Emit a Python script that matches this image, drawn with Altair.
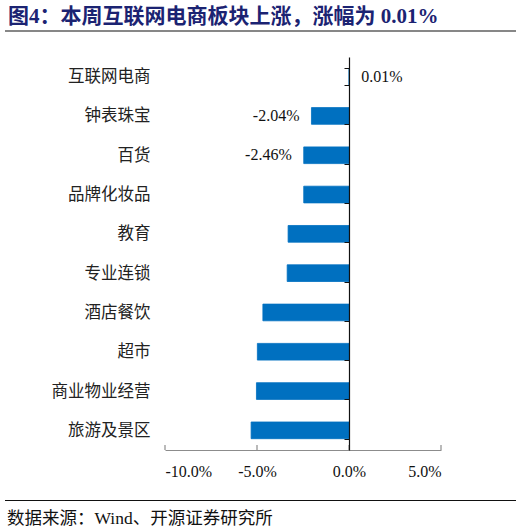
import altair as alt
import pandas as pd

# Weekly change by retail sub-sector (%)
categories = ["互联网电商", "钟表珠宝", "百货", "品牌化妆品", "教育",
              "专业连锁", "酒店餐饮", "超市", "商业物业经营", "旅游及景区"]
changes = [0.01, -2.04, -2.46, -2.46, -3.31, -3.36, -4.68, -4.98, -5.03, -5.32]
labeled = ["互联网电商", "钟表珠宝", "百货"]
x_ticks = [-10, -5, 0, 5]

title_text = "图4：本周互联网电商板块上涨，涨幅为 0.01%"
source_text = "数据来源：Wind、开源证券研究所"

W, H = 276, 393
PAD_L, PAD_T = 165, 57
BLUE = "#0070C0"
SERIF = "Liberation Serif, Noto Sans CJK SC"
CJK = "Noto Sans CJK SC"

df = pd.DataFrame({"cat": categories, "val": changes})

x_scale = alt.Scale(domain=[-10, 5], nice=False, zero=False)
y_scale = alt.Scale(domain=categories, paddingInner=0.575, paddingOuter=0.2875)

# percent text with a plain hyphen for negatives
pct1 = "(datum.value < 0 ? '-' : '') + format(abs(datum.value), '.1f') + '%'"
pct2 = "(datum.val < 0 ? '-' : '') + format(abs(datum.val), '.2f') + '%'"

x_axis = alt.Axis(values=x_ticks, title=None, grid=False, ticks=False,
                  labelExpr=pct1,
                  labelFont=SERIF, labelFontSize=16, labelColor="#111",
                  labelPadding=13, domainColor="#8c8c8c", domainWidth=1.2)
y_axis = alt.Axis(title=None, offset=-184, tickBand="extent", tickSize=5,
                  tickColor="#111", domainColor="#111", domainWidth=1.2,
                  labelPadding=194, labelFont=CJK, labelFontSize=16.5,
                  labelColor="#222", zindex=1)

bars = alt.Chart(df).mark_bar(color=BLUE, stroke=BLUE, strokeWidth=0.8).encode(
    x=alt.X("val:Q", scale=x_scale, axis=x_axis),
    y=alt.Y("cat:N", scale=y_scale, sort=categories, axis=y_axis),
)

x_tick_marks = alt.Chart(pd.DataFrame({"t": x_ticks})).mark_rule(
    color="#8c8c8c", strokeWidth=1.2
).encode(
    x=alt.X("t:Q", scale=x_scale, axis=x_axis),
    y=alt.value(H - 5), y2=alt.value(H),
)

lab = alt.Chart(df).transform_filter(
    alt.FieldOneOfPredicate(field="cat", oneOf=labeled)
).transform_calculate(txt=pct2)
lab_enc = dict(
    x=alt.X("val:Q", scale=x_scale, axis=x_axis),
    y=alt.Y("cat:N", scale=y_scale, sort=categories, axis=y_axis),
    text="txt:N",
)
lab_pos = lab.transform_filter("datum.val >= 0").mark_text(
    align="left", dx=12, font=SERIF, fontSize=16, color="#111"
).encode(**lab_enc)
lab_neg = lab.transform_filter("datum.val < 0").mark_text(
    align="right", dx=-12, font=SERIF, fontSize=16, color="#111"
).encode(**lab_enc)

one = pd.DataFrame({"k": [0]})

title = alt.Chart(one).mark_text(
    align="left", baseline="middle", font=SERIF, fontSize=21, fontWeight="bold", color="#1b2372"
).encode(x=alt.value(8 - PAD_L), y=alt.value(17 - PAD_T), text=alt.value(title_text))

title_line = alt.Chart(one).mark_rule(color="#111", strokeWidth=1.2).encode(
    x=alt.value(5 - PAD_L), x2=alt.value(516 - PAD_L), y=alt.value(31 - PAD_T)
)

foot_line = alt.Chart(one).mark_rule(color="#111", strokeWidth=1.2).encode(
    x=alt.value(5 - PAD_L), x2=alt.value(516 - PAD_L), y=alt.value(500.5 - PAD_T)
)

source = alt.Chart(one).mark_text(
    align="left", baseline="middle", font=SERIF, fontSize=17.5, color="#111"
).encode(x=alt.value(7 - PAD_L), y=alt.value(519 - PAD_T), text=alt.value(source_text))

chart = alt.layer(
    bars, x_tick_marks, lab_pos, lab_neg, title, title_line, foot_line, source
).properties(
    width=W, height=H,
    background="white",
    autosize=alt.AutoSizeParams(type="none"),
    padding={"left": PAD_L, "top": PAD_T, "right": 522 - PAD_L - W, "bottom": 530 - PAD_T - H},
).configure_view(stroke=None)

chart.save("out.html", embed_options={"renderer": "svg", "actions": False})
